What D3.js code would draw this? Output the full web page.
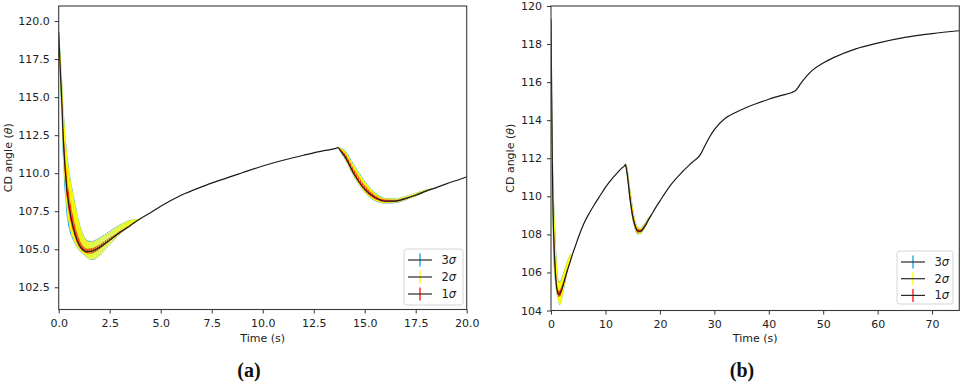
<!DOCTYPE html>
<html>
<head>
<meta charset="utf-8">
<script src="https://cdn.jsdelivr.net/npm/d3@7"></script>
<style>
  html, body { margin: 0; padding: 0; background: #fff; }
  svg { display: block; }
  text { font-family: "DejaVu Sans", sans-serif; }
</style>
</head>
<body>
<svg id="chart" width="962" height="383"></svg>
<script>
// ---------------- DATA ----------------
// mean CD angle trajectory (black line), time in seconds
const times = [0, 0.05, 0.1, 0.15, 0.2, 0.25, 0.3, 0.4, 0.5, 0.6, 0.7, 0.8, 0.9, 1.0,
  1.2, 1.4, 1.6, 1.8, 2.0, 2.5, 3.0, 3.5, 4.0, 4.5, 5.0, 6, 7, 8, 9, 10, 11, 12, 13,
  13.5, 13.7, 13.8, 14.0, 14.5, 15.0, 15.5, 16.0, 16.5, 17.0, 17.5, 18.0, 18.5, 19, 20,
  22, 24, 26, 27.4, 28, 29, 30, 32, 34, 36, 40, 42, 44.8, 46, 47, 48, 50, 52, 56, 60, 65, 70, 75];
const meanAngle = [119.3, 117.6, 116.2, 114.8, 113.0, 111.6, 110.6, 108.9, 107.9, 107.1, 106.5, 106.0, 105.6, 105.3,
  104.95, 104.84, 104.87, 104.97, 105.12, 105.6, 106.1, 106.55, 107.0, 107.4, 107.82, 108.55, 109.1, 109.58, 110.03, 110.47, 110.85, 111.18, 111.48,
  111.6, 111.68, 111.5, 111.15, 109.9, 108.95, 108.4, 108.17, 108.17, 108.33, 108.55, 108.82, 109.05, 109.3, 109.75,
  110.6, 111.25, 111.8, 112.18, 112.5, 113.05, 113.5, 114.1, 114.42, 114.68, 115.1, 115.28, 115.53, 115.98, 116.33, 116.62, 117.0, 117.3, 117.75, 118.05, 118.35, 118.55, 118.7];

// times that carry error bars (subset of times)
const errTimes = [0, 0.05, 0.1, 0.15, 0.2, 0.25, 0.3, 0.4, 0.5, 0.6, 0.7, 0.8, 0.9, 1.0, 1.2, 1.4, 1.6, 1.8, 2.0, 2.5, 3.0, 3.5, 4.0,
  13.7, 13.8, 14.0, 14.5, 15.0, 15.5, 16.0, 16.5, 17.0, 17.5, 18.0, 18.5];
// upward / downward extents of each band
const hi3 = [0.35, 1.0, 1.5, 1.9, 2.2, 2.4, 2.5, 2.6, 2.5, 2.4, 2.3, 2.1, 1.85, 1.55, 1.05, 0.75, 0.65, 0.65, 0.65, 0.6, 0.52, 0.37, 0.0,
  0.0, 0.17, 0.4, 0.62, 0.56, 0.34, 0.2, 0.17, 0.17, 0.17, 0.11, 0.0];
const lo3 = [0.35, 0.8, 1.3, 1.6, 1.8, 1.9, 1.9, 1.8, 1.55, 1.2, 0.9, 0.65, 0.5, 0.38, 0.27, 0.42, 0.58, 0.62, 0.57, 0.32, 0.11, 0.05, 0.0,
  0.0, 0.1, 0.18, 0.24, 0.24, 0.23, 0.17, 0.14, 0.12, 0.09, 0.06, 0.0];
const hi2 = [0.3, 0.9, 1.4, 1.8, 2.1, 2.3, 2.4, 2.5, 2.4, 2.3, 2.2, 2.0, 1.8, 1.5, 1.0, 0.7, 0.6, 0.6, 0.6, 0.55, 0.5, 0.35, 0.0,
  0.0, 0.15, 0.35, 0.55, 0.5, 0.3, 0.18, 0.15, 0.15, 0.15, 0.1, 0.0];
const lo2 = [0.3, 0.6, 0.9, 1.1, 1.2, 1.3, 1.3, 1.3, 1.2, 1.0, 0.8, 0.6, 0.45, 0.35, 0.25, 0.4, 0.55, 0.6, 0.55, 0.3, 0.1, 0.05, 0.0,
  0.0, 0.08, 0.15, 0.2, 0.2, 0.2, 0.15, 0.12, 0.1, 0.08, 0.05, 0.0];
const hi1 = [0.1, 0.35, 0.55, 0.7, 0.8, 0.85, 0.9, 0.9, 0.85, 0.8, 0.7, 0.6, 0.5, 0.4, 0.25, 0.2, 0.2, 0.2, 0.2, 0.15, 0.1, 0.05, 0.0,
  0.0, 0.08, 0.2, 0.3, 0.25, 0.15, 0.1, 0.08, 0.08, 0.07, 0.05, 0.0];
const lo1 = [0.1, 0.3, 0.45, 0.55, 0.6, 0.6, 0.6, 0.55, 0.5, 0.4, 0.3, 0.25, 0.2, 0.15, 0.1, 0.12, 0.15, 0.15, 0.12, 0.08, 0.04, 0.02, 0.0,
  0.0, 0.04, 0.08, 0.1, 0.1, 0.1, 0.08, 0.06, 0.05, 0.04, 0.03, 0.0];

const legendLabels = ["3", "2", "1"];
const xTicksA = [0, 2.5, 5, 7.5, 10, 12.5, 15, 17.5, 20];
const yTicksA = [102.5, 105, 107.5, 110, 112.5, 115, 117.5, 120];
const xTicksB = [0, 10, 20, 30, 40, 50, 60, 70];
const yTicksB = [104, 106, 108, 110, 112, 114, 116, 118, 120];

// ---------------- LAYOUT ----------------
const colors = { s3: "#1fa8ee", s2: "#ffff00", s1: "#ff1a1a" };
const svg = d3.select("#chart");
const defs = svg.append("defs");

const meanByT = new Map(times.map((t, i) => [t, meanAngle[i]]));
const lineData = times.map((t, i) => ({ t, v: meanAngle[i] }));
const bands = [
  { key: "s3", hi: hi3, lo: lo3 },
  { key: "s2", hi: hi2, lo: lo2 },
  { key: "s1", hi: hi1, lo: lo1 }
];
function segments(hi, lo) {
  const segs = []; let cur = [];
  errTimes.forEach((t, i) => {
    if (cur.length && t - cur[cur.length - 1].t > 2) { segs.push(cur); cur = []; }
    cur.push({ t, v: meanByT.get(t), hi: hi[i], lo: lo[i] });
  });
  if (cur.length) segs.push(cur);
  return segs;
}

const panels = [
  { id: "a", x0: 58.7, x1: 466.7, y0: 6, y1: 309.5, xd: [0, 20], yd: [101.04, 120.99],
    xt: xTicksA, yt: yTicksA, fx: d3.format(".1f"), fy: d3.format(".1f"), striped: true,
    ylabX: 12, cap: "(a)", capX: 249, leg: { x: 404, y: 249, w: 59, h: 56, dy: 17 } },
  { id: "b", x0: 551, x1: 959.3, y0: 6, y1: 310.5, xd: [0, 75], yd: [104, 120],
    xt: xTicksB, yt: yTicksB, fx: d3.format("d"), fy: d3.format("d"), striped: false,
    ylabX: 514, cap: "(b)", capX: 742, leg: { x: 897, y: 251, w: 56, h: 53, dy: 16.7 } }
];

panels.forEach(p => {
  const xs = d3.scaleLinear().domain(p.xd).range([p.x0, p.x1]);
  const ys = d3.scaleLinear().domain(p.yd).range([p.y1, p.y0]);
  const g = svg.append("g");

  defs.append("clipPath").attr("id", "clip-" + p.id)
    .append("rect").attr("x", p.x0).attr("y", p.y0)
    .attr("width", p.x1 - p.x0).attr("height", p.y1 - p.y0);

  if (p.striped) {
    const step = xs(0.1) - xs(0);
    Object.entries(colors).forEach(([k, c]) => {
      const pat = defs.append("pattern").attr("id", "pat-" + p.id + k)
        .attr("patternUnits", "userSpaceOnUse")
        .attr("x", xs(0) - 0.8).attr("y", 0).attr("width", step).attr("height", 10);
      pat.append("rect").attr("x", 0).attr("y", 0).attr("width", k === "s2" ? 1.75 : 1.6)
        .attr("height", 10).attr("fill", c);
    });
  }

  const plot = g.append("g").attr("clip-path", "url(#clip-" + p.id + ")");
  const area = d3.area().x(d => xs(d.t)).y0(d => ys(d.v - d.lo)).y1(d => ys(d.v + d.hi))
    .curve(d3.curveMonotoneX);
  bands.forEach(b => {
    segments(b.hi, b.lo).forEach(seg => {
      plot.append("path").attr("d", area(seg))
        .attr("fill", p.striped ? "url(#pat-" + p.id + b.key + ")" : colors[b.key])
        .attr("fill-opacity", b.key === "s1" ? 0.85 : 1);
    });
  });
  const line = d3.line().x(d => xs(d.t)).y(d => ys(d.v)).curve(d3.curveMonotoneX);
  plot.append("path").attr("d", line(lineData)).attr("fill", "none")
    .attr("stroke", "#1a1a1a").attr("stroke-width", 1.2);

  const ax = g.append("g").attr("transform", `translate(0,${p.y1})`)
    .call(d3.axisBottom(xs).tickValues(p.xt).tickFormat(p.fx).tickSize(4).tickPadding(5.5));
  const ay = g.append("g").attr("transform", `translate(${p.x0},0)`)
    .call(d3.axisLeft(ys).tickValues(p.yt).tickFormat(p.fy).tickSize(4).tickPadding(5));
  [ax, ay].forEach(a => {
    a.select(".domain").remove();
    a.selectAll(".tick line").attr("stroke", "#333").attr("stroke-width", 1);
    a.selectAll(".tick text").attr("fill", "#222").style("font-size", "11px")
      .style("font-family", "'DejaVu Sans', sans-serif");
  });

  g.append("rect").attr("x", p.x0).attr("y", p.y0).attr("width", p.x1 - p.x0)
    .attr("height", p.y1 - p.y0).attr("fill", "none").attr("stroke", "#3a3a3a").attr("stroke-width", 1.1);

  g.append("text").attr("x", (p.x0 + p.x1) / 2).attr("y", 341.5).attr("text-anchor", "middle")
    .attr("fill", "#222").style("font-size", "11px").text("Time (s)");
  const yl = g.append("text").attr("transform", `translate(${p.ylabX},${(p.y0 + p.y1) / 2}) rotate(-90)`)
    .attr("text-anchor", "middle").attr("fill", "#222").style("font-size", "11px");
  yl.append("tspan").text("CD angle (");
  yl.append("tspan").style("font-style", "italic").text("θ");
  yl.append("tspan").text(")");

  g.append("text").attr("x", p.capX).attr("y", 377).attr("text-anchor", "middle")
    .style("font-family", "'Liberation Serif', 'DejaVu Serif', serif").style("font-weight", "bold")
    .style("font-size", "20px").attr("fill", "#111").text(p.cap);

  const L = p.leg;
  const lg = g.append("g");
  lg.append("rect").attr("x", L.x).attr("y", L.y).attr("width", L.w).attr("height", L.h)
    .attr("rx", 2.5).attr("fill", "#fff").attr("fill-opacity", 0.85)
    .attr("stroke", "#d4d4d4").attr("stroke-width", 1);
  ["s3", "s2", "s1"].forEach((k, i) => {
    const yy = L.y + 11 + i * L.dy;
    const cx = L.x + 16;
    lg.append("line").attr("x1", cx).attr("x2", cx).attr("y1", yy - 6.5).attr("y2", yy + 6.5)
      .attr("stroke", colors[k]).attr("stroke-width", 1.4);
    lg.append("line").attr("x1", L.x + 4).attr("x2", L.x + 28).attr("y1", yy).attr("y2", yy)
      .attr("stroke", "#2a2a2a").attr("stroke-width", 1.2);
    const tx = lg.append("text").attr("x", L.x + 37.5).attr("y", yy + 4).attr("fill", "#222")
      .style("font-size", "11.5px");
    tx.append("tspan").text(legendLabels[i]);
    tx.append("tspan").style("font-style", "italic").text("σ");
  });
});
</script>
</body>
</html>
